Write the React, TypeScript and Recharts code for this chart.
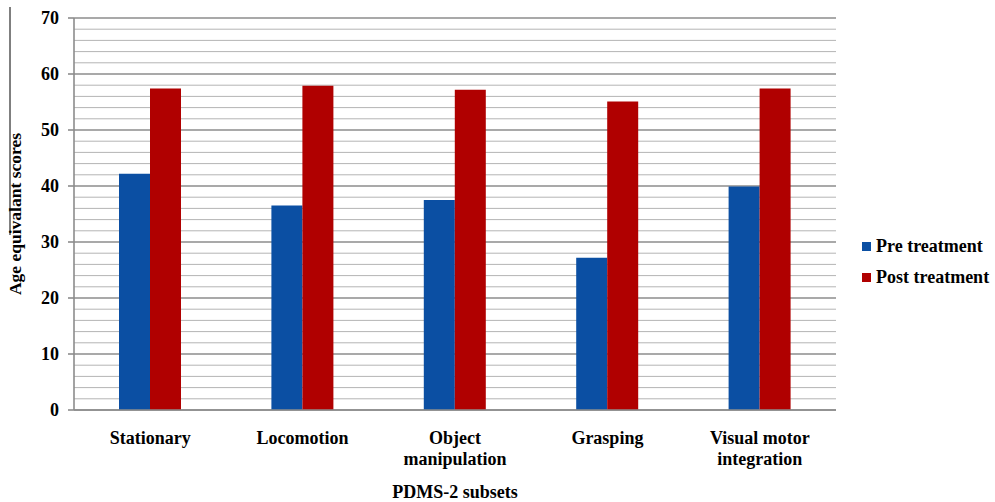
import React from 'react';
import { BarChart, Bar, XAxis, YAxis, CartesianGrid } from 'recharts';

const categories = ['Stationary', 'Locomotion', 'Object\nmanipulation', 'Grasping', 'Visual motor\nintegration'];
const preTreatment = [42.2, 36.5, 37.5, 27.2, 39.9];
const postTreatment = [57.4, 57.9, 57.2, 55.1, 57.4];
const majorTicks = [0, 10, 20, 30, 40, 50, 60, 70];
const minorTicks = [2, 4, 6, 8, 12, 14, 16, 18, 22, 24, 26, 28, 32, 34, 36, 38, 42, 44, 46, 48, 52, 54, 56, 58, 62, 64, 66, 68];
const seriesNames = ['Pre treatment', 'Post treatment'];
const seriesColors = ['#0b4fa3', '#b00000'];

const data = categories.map((c, i) => ({ name: c, pre: preTreatment[i], post: postTreatment[i] }));

const FONT = '"Liberation Serif", "Times New Roman", serif';

const XTick = (props: any) => {
  const { x, y, payload } = props;
  const lines = String(payload.value).split('\n');
  return (
    <text x={x} y={y + 34} textAnchor="middle" fontFamily={FONT} fontWeight="bold" fontSize={18} fill="#000">
      {lines.map((l, i) => (
        <tspan key={i} x={x} dy={i === 0 ? 0 : 21}>{l}</tspan>
      ))}
    </text>
  );
};

const YLabel = (props: any) => {
  const vb = props.viewBox || {};
  const cy = vb.y + vb.height / 2;
  return (
    <g>
      <line x1={10} y1={7} x2={10} y2={235} stroke="#000" strokeWidth={1} />
      <text
        x={21}
        y={cy}
        transform={`rotate(-90, 21, ${cy})`}
        textAnchor="middle"
        fontFamily={FONT}
        fontWeight="bold"
        fontSize={17.5}
        fill="#000"
      >
        Age equivalant scores
      </text>
    </g>
  );
};

const XLabel = (props: any) => {
  const vb = props.viewBox || {};
  return (
    <text x={vb.x + vb.width / 2} y={vb.y + 88} textAnchor="middle" fontFamily={FONT} fontWeight="bold" fontSize={18} fill="#000">
      PDMS-2 subsets
    </text>
  );
};

const LegendBox = () => (
  <div
    style={{
      position: 'absolute',
      left: 862,
      top: 231,
      fontFamily: FONT,
      fontWeight: 'bold',
      fontSize: 18,
      color: '#000',
      lineHeight: '31px',
    }}
  >
    {seriesNames.map((n, i) => (
      <div key={n} style={{ display: 'flex', alignItems: 'center', whiteSpace: 'nowrap' }}>
        <span style={{ display: 'inline-block', width: 9, height: 9, background: seriesColors[i], marginRight: 5 }} />
        <span>{n}</span>
      </div>
    ))}
  </div>
);

export default function App() {
  return (
    <div style={{ position: 'absolute', left: 0, top: 0, width: 995, height: 502, background: '#fff' }}>
      <BarChart
        width={995}
        height={502}
        data={data}
        margin={{ top: 18, right: 159, bottom: 0, left: 0 }}
        barCategoryGap={45}
        barGap={0}
      >
        <CartesianGrid vertical={false} horizontalValues={minorTicks} stroke="#b4b4b4" strokeWidth={1} />
        <CartesianGrid vertical={false} horizontalValues={majorTicks} stroke="#8c8c8c" strokeWidth={1.6} />
        <XAxis
          dataKey="name"
          interval={0}
          tickLine={false}
          tickSize={0}
          tickMargin={0}
          height={92}
          axisLine={{ stroke: '#8c8c8c', strokeWidth: 1.6 }}
          tick={<XTick />}
          label={<XLabel />}
        />
        <YAxis
          width={74}
          domain={[0, 70]}
          ticks={majorTicks}
          interval={0}
          tickSize={6}
          tickMargin={9}
          axisLine={{ stroke: '#8c8c8c', strokeWidth: 1.6 }}
          tickLine={{ stroke: '#8c8c8c', strokeWidth: 1.6 }}
          tick={{ fontFamily: FONT, fontWeight: 'bold', fontSize: 18, fill: '#000' }}
          label={<YLabel />}
        />
        <Bar dataKey="pre" name={seriesNames[0]} fill={seriesColors[0]} isAnimationActive={false} />
        <Bar dataKey="post" name={seriesNames[1]} fill={seriesColors[1]} isAnimationActive={false} />
      </BarChart>
      <LegendBox />
    </div>
  );
}
